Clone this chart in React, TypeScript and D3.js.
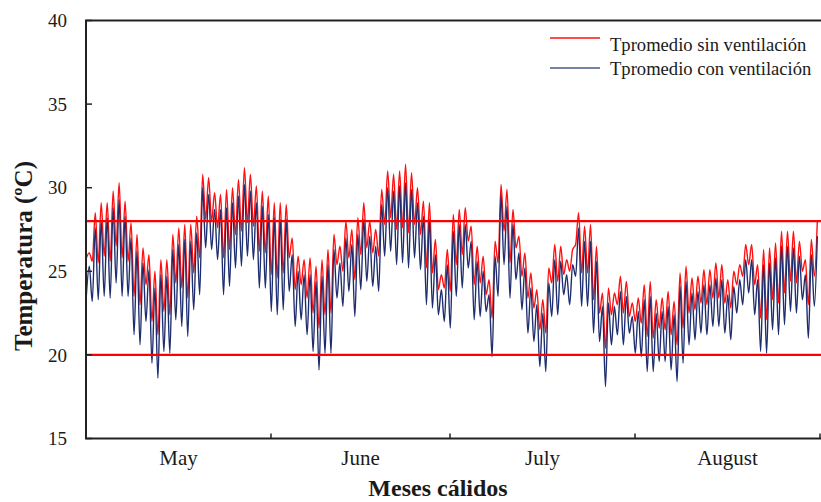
import React from "react";
import * as d3 from "d3";

// ---- data ----
const months = ["May", "June", "July", "August"];
const monthDays = [31, 30, 31, 31];
const yTicks = [15, 20, 25, 30, 35, 40];
const limits = [20, 28];
const seriesNames = ["Tpromedio sin ventilación", "Tpromedio con ventilación"];

// daily maxima / minima, one value per day (May 1 .. Aug 31)
const sinMax = [
  26.1, 28.5, 29.1, 29.1, 29.8, 30.3, 29.2, 27.9, 27.2, 26.4,
  26.0, 25.0, 25.7, 25.7, 27.2, 27.6, 27.8, 27.8, 28.3, 30.8,
  30.6, 29.7, 29.6, 29.9, 30.0, 30.5, 31.2, 30.8, 30.1, 29.8,
  29.5, 29.1, 29.1, 29.0, 27.0, 25.9, 25.7, 25.8, 25.3, 25.7,
  26.3, 27.2, 26.5, 28.0, 27.5, 28.2, 29.1, 28.0, 27.5, 29.9,
  31.0, 30.8, 31.0, 31.4, 30.9, 30.0, 29.2, 29.1, 26.9, 24.8,
  26.3, 28.4, 28.7, 28.8, 27.7, 26.5, 25.9, 24.5, 26.8, 30.2,
  29.9, 28.7, 27.1, 26.1, 24.9, 23.9, 23.3, 25.2, 26.6, 26.5,
  25.7, 26.3, 28.5, 27.7, 27.8, 26.5, 23.7, 24.0, 23.7, 24.7,
  24.4, 23.1, 23.4, 24.2, 24.4, 23.3, 23.4, 23.8, 23.2, 24.9,
  25.3, 24.6, 24.7, 25.1, 25.1, 25.5, 25.4, 24.5, 25.0, 25.4,
  26.6, 26.6, 25.4, 26.3, 26.4, 26.7, 27.4, 27.4, 27.4, 26.8,
  25.7, 26.9, 28.0,
];
const sinMin = [
  25.8, 25.6, 25.5, 25.9, 25.6, 26.5, 25.8, 25.6, 23.5, 23.0,
  24.2, 22.0, 21.2, 22.6, 22.4, 24.3, 24.0, 23.4, 24.9, 25.8,
  28.1, 28.0, 27.6, 25.8, 26.3, 27.2, 27.4, 27.9, 27.7, 26.2,
  26.1, 24.8, 24.6, 24.9, 25.8, 23.9, 24.2, 23.4, 22.5, 21.6,
  22.4, 22.5, 25.4, 25.0, 25.8, 24.5, 26.0, 26.4, 26.1, 25.9,
  27.8, 28.2, 27.5, 27.6, 27.3, 27.8, 27.2, 25.2, 24.9, 23.9,
  24.0, 23.8, 25.4, 26.0, 26.8, 24.2, 24.3, 23.6, 22.2, 25.5,
  27.4, 25.5, 26.4, 24.7, 23.4, 22.8, 21.5, 21.3, 24.3, 24.4,
  24.8, 25.0, 26.6, 24.9, 24.9, 23.3, 22.5, 20.4, 22.4, 23.0,
  22.5, 22.3, 22.0, 21.9, 21.1, 21.0, 21.6, 21.5, 21.2, 20.6,
  21.6, 22.5, 22.7, 23.1, 23.0, 23.4, 23.4, 23.1, 22.8, 24.2,
  24.7, 25.4, 24.2, 22.2, 22.1, 23.3, 23.1, 23.7, 24.4, 24.3,
  25.0, 23.0, 24.7,
];
const conMax = [
  25.3, 27.6, 28.0, 28.2, 28.8, 29.3, 28.3, 27.0, 26.2, 25.5,
  25.1, 24.0, 24.8, 24.7, 26.3, 26.6, 26.9, 26.8, 27.3, 30.0,
  29.6, 28.7, 28.7, 28.8, 29.1, 29.5, 30.2, 29.8, 29.1, 28.9,
  28.4, 28.2, 28.1, 28.1, 26.0, 25.0, 24.8, 24.8, 24.4, 24.7,
  25.4, 26.3, 25.5, 27.0, 26.6, 27.2, 28.1, 27.1, 26.5, 29.0,
  30.0, 29.8, 30.1, 30.3, 29.9, 29.1, 28.3, 28.1, 26.0, 23.9,
  25.4, 27.4, 27.8, 27.8, 26.8, 25.6, 25.0, 23.6, 25.9, 29.6,
  28.9, 27.8, 26.1, 25.2, 24.0, 23.0, 22.5, 24.3, 25.7, 25.6,
  24.8, 25.4, 27.6, 26.8, 26.8, 25.6, 22.9, 23.1, 22.9, 23.8,
  23.5, 22.3, 22.6, 23.3, 23.5, 22.5, 22.6, 22.9, 22.4, 24.1,
  24.4, 23.7, 23.8, 24.2, 24.2, 24.6, 24.5, 23.6, 24.1, 24.5,
  25.7, 25.7, 24.5, 25.4, 25.5, 25.8, 26.5, 26.5, 26.4, 25.9,
  24.8, 26.0, 27.1,
];
const conMin = [
  23.5, 23.2, 23.3, 23.5, 23.4, 24.3, 23.5, 23.5, 21.2, 20.6,
  22.0, 19.5, 18.6, 20.2, 20.1, 22.1, 21.7, 21.1, 22.7, 23.6,
  26.4, 26.3, 25.7, 23.6, 24.1, 25.2, 25.3, 25.9, 25.7, 24.0,
  24.0, 22.6, 22.4, 22.7, 23.8, 21.7, 22.1, 21.2, 20.2, 19.1,
  20.1, 20.1, 23.4, 22.9, 23.8, 22.3, 23.9, 24.4, 24.1, 23.8,
  25.9, 26.2, 25.4, 25.5, 25.2, 25.8, 25.1, 23.0, 22.8, 22.4,
  22.0, 21.6, 23.5, 24.0, 25.2, 22.1, 22.3, 22.6, 19.9, 23.5,
  25.4, 23.4, 24.5, 22.7, 21.3, 20.8, 19.3, 19.0, 22.3, 22.4,
  23.6, 23.0, 24.7, 22.9, 22.9, 21.3, 20.8, 18.1, 20.6, 21.2,
  20.6, 21.3, 20.1, 19.9, 19.0, 19.0, 19.6, 19.6, 19.1, 18.4,
  19.5, 20.6, 20.9, 21.3, 21.2, 21.7, 21.7, 21.3, 20.9, 22.5,
  23.0, 23.7, 22.4, 20.2, 20.1, 21.5, 21.2, 21.8, 22.6, 22.5,
  23.3, 21.0, 22.9,
];

const W = 821;
const H = 502;
const left = 86;
const right = 820;
const top = 20.5;
const bottom = 438.5;
const FONT = "Liberation Serif";

function dailyPoints(mins: number[], maxs: number[]): [number, number][] {
  const pts: [number, number][] = [];
  for (let k = 0; k < mins.length; k++) {
    pts.push([k + 0.05, mins[k]]);
    pts.push([k + 0.55, maxs[k]]);
  }
  return pts;
}

function T(props: {
  x?: number;
  y?: number;
  size: number;
  bold?: boolean;
  anchor?: string;
  dy?: string;
  transform?: string;
  children: React.ReactNode;
}) {
  return (
    <text
      x={props.x}
      y={props.y}
      dy={props.dy}
      transform={props.transform}
      textAnchor={props.anchor || "start"}
      fontFamily={FONT}
      fontSize={props.size}
      fontWeight={props.bold ? "bold" : "normal"}
      style={{ fontFamily: FONT }}
      fill="#1a1a1a"
    >
      {props.children}
    </text>
  );
}

export default function App() {
  const totalDays = d3.sum(monthDays);
  const x = d3.scaleLinear().domain([0, totalDays]).range([left, right]);
  const y = d3.scaleLinear().domain([15, 40]).range([bottom, top]);

  const line = d3
    .line<[number, number]>()
    .x((d) => x(d[0]))
    .y((d) => y(d[1]))
    .curve(d3.curveMonotoneX);

  const sinPath = line(dailyPoints(sinMin, sinMax)) || "";
  const conPath = line(dailyPoints(conMin, conMax)) || "";

  const starts = Array.from(d3.cumsum([0, ...monthDays]));
  const monthTicks = starts.slice(1);
  const monthCenters = months.map((_, i) => (starts[i] + starts[i + 1]) / 2);

  return (
    <svg
      width={W}
      height={H}
      style={{ position: "absolute", left: 0, top: 0, background: "#fff" }}
    >
      <rect x={0} y={0} width={W} height={H} fill="#fff" />
      <defs>
        <clipPath id="plot">
          <rect x={left} y={top} width={W - left} height={bottom - top} />
        </clipPath>
      </defs>

      <g clipPath="url(#plot)">
        <path d={sinPath} fill="none" stroke="#ff1010" strokeWidth={1.4} strokeLinejoin="round" />
        <path d={conPath} fill="none" stroke="#1e2d6e" strokeWidth={1.4} strokeLinejoin="round" />
        {limits.map((v) => (
          <line
            key={v}
            x1={left}
            x2={W}
            y1={y(v)}
            y2={y(v)}
            stroke="#ff0000"
            strokeWidth={2.2}
          />
        ))}
      </g>

      {/* frame */}
      <path
        d={`M${W + 2},${top} H${left} V${bottom} H${W + 2}`}
        fill="none"
        stroke="#222"
        strokeWidth={2}
      />

      {/* y ticks */}
      {yTicks.map((t) => (
        <g key={t}>
          <line x1={left} x2={left + 6} y1={y(t)} y2={y(t)} stroke="#222" strokeWidth={1.5} />
          <T x={67} y={y(t)} dy="0.35em" anchor="end" size={19}>
            {t}
          </T>
        </g>
      ))}

      {/* x ticks */}
      {monthTicks.map((d) => (
        <line key={d} x1={x(d)} x2={x(d)} y1={bottom} y2={bottom - 5} stroke="#222" strokeWidth={1.5} />
      ))}
      {months.map((m, i) => (
        <T key={m} x={x(monthCenters[i])} y={465} anchor="middle" size={21}>
          {m}
        </T>
      ))}

      {/* axis titles */}
      <T x={438} y={496} anchor="middle" size={24} bold>
        Meses cálidos
      </T>
      <T transform="translate(32,256) rotate(-90)" anchor="middle" size={25} bold>
        Temperatura (ºC)
      </T>

      {/* legend */}
      <line x1={550} x2={600} y1={38} y2={38} stroke="#ff1010" strokeWidth={1.3} />
      <T x={610} y={51} size={18.6}>{seriesNames[0]}</T>
      <line x1={550} x2={600} y1={68} y2={68} stroke="#4a5a8c" strokeWidth={1.5} />
      <T x={610} y={74.5} size={18.6}>{seriesNames[1]}</T>
    </svg>
  );
}
